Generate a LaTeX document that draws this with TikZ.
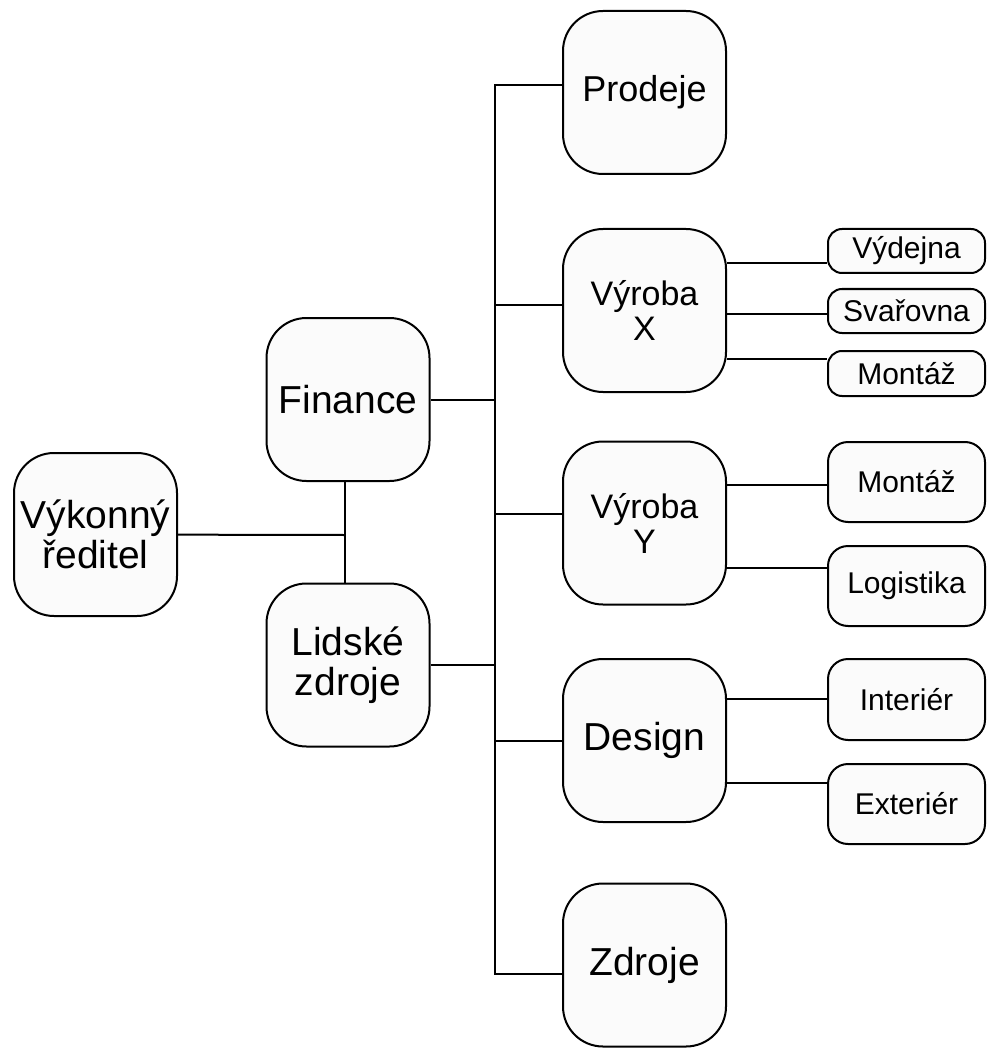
\documentclass[tikz,border=0pt]{standalone}
\usepackage{fontspec}
\setmainfont{Liberation Sans}
\begin{document}
\begin{tikzpicture}[x=1pt,y=-1pt,line width=2pt,
  big/.style={draw,fill=gray!3,rounded corners=40pt,minimum width=163pt,minimum height=163pt,inner sep=0pt,align=center,font=\fontsize{39}{40}\selectfont},
  small/.style={draw,fill=gray!3,rounded corners=14pt,minimum width=157pt,inner sep=0pt,align=center,font=\fontsize{30}{31}\selectfont}]
  \useasboundingbox(0,0) rectangle (986,1048);
  \node[big](ceo) at(95.5,534.5){Výkonný\\ředitel};
  \node[big](fin) at(348,399.5){Finance};
  \node[big](hr) at(348,665){Lidské\\zdroje};
  \node[big,font=\fontsize{36}{37}\selectfont](prod) at(644.5,92.5){\raisebox{7pt}{Prodeje}};
  \node[big,font=\fontsize{34}{35}\selectfont](vx) at(644.5,310.5){Výroba\\X};
  \node[big,font=\fontsize{34}{35}\selectfont](vy) at(644.5,523){Výroba\\Y};
  \node[big](des) at(644.5,740.5){Design};
  \node[big](zdr) at(644.5,965){Zdroje};
  \node[small,minimum height=44pt](vyd) at(906.5,251){Výdejna};
  \node[small,minimum height=44pt](sva) at(906.5,311){Svařovna};
  \node[small,minimum height=45pt](mon1) at(906.5,373.5){Montáž};
  \node[small,minimum height=80pt,rounded corners=20pt](mon2) at(906.5,482){Montáž};
  \node[small,minimum height=80pt,rounded corners=20pt](log) at(906.5,586){Logistika};
  \node[small,minimum height=81pt,rounded corners=20pt](int) at(906.5,699.5){Interiér};
  \node[small,minimum height=80pt,rounded corners=20pt](ext) at(906.5,804){Exteriér};
  \coordinate(j) at(345,535);
  \draw(ceo)--(j);
  \draw(j |- fin.south)--(j |- hr.north);
  \coordinate(ttop) at(495,85);
  \coordinate(tbot) at(495,974);
  \draw(ttop -| prod.west)--(ttop)--(tbot)--(tbot -| zdr.west);
  \draw(fin.east)--(fin.east -| ttop);
  \draw(hr.east)--(hr.east -| ttop);
  \coordinate(tvx) at(495,305);
  \coordinate(tvy) at(495,514);
  \draw(tvx)--(tvx -| vx.west);
  \draw(tvy)--(tvy -| vy.west);
  \draw(des.west)--(des.west -| ttop);
  \coordinate(a1) at(776,263);
  \coordinate(a2) at(776,314);
  \coordinate(a3) at(776,359);
  \coordinate(b1) at(776,485);
  \coordinate(b2) at(776,568);
  \coordinate(c1) at(776,699);
  \coordinate(c2) at(776,783);
  \draw(a1 -| vx.east)--(a1 -| vyd.west);
  \draw(a2 -| vx.east)--(a2 -| sva.west);
  \draw(a3 -| vx.east)--(a3 -| mon1.west);
  \draw(b1 -| vy.east)--(b1 -| mon2.west);
  \draw(b2 -| vy.east)--(b2 -| log.west);
  \draw(c1 -| des.east)--(c1 -| int.west);
  \draw(c2 -| des.east)--(c2 -| ext.west);
\end{tikzpicture}
\end{document}
